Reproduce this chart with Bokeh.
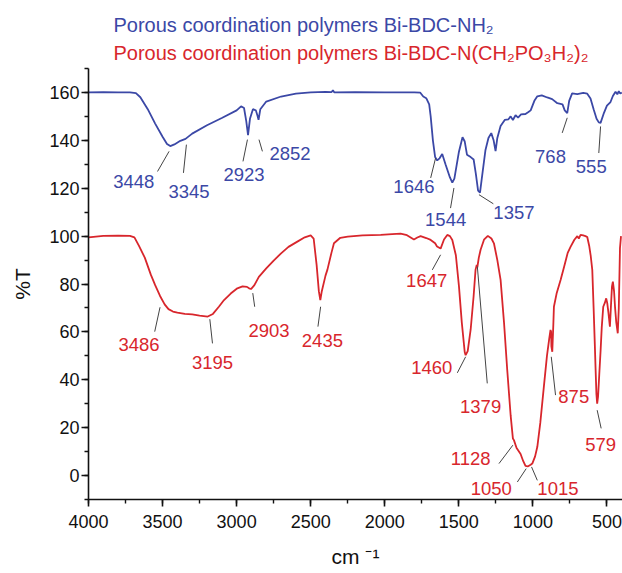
from bokeh.plotting import figure
from bokeh.models import Range1d, Title, SingleIntervalTicker
from bokeh.core.properties import value
from bokeh.embed import file_html
from bokeh.resources import INLINE

# ---------------- data ----------------
nh2_wn = [4000, 3900, 3800, 3720, 3680, 3650, 3600, 3550, 3500, 3470, 3448, 3420, 3380, 3345,
          3300, 3200, 3100, 3000, 2970, 2950, 2935, 2923, 2910, 2890, 2870, 2860, 2852, 2840,
          2800, 2700, 2600, 2500, 2400, 2360, 2350, 2340, 2200, 2000, 1800, 1760, 1740, 1720,
          1700, 1690, 1675, 1660, 1646, 1630, 1612, 1590, 1560, 1544, 1530, 1500, 1475, 1460,
          1445, 1420, 1400, 1385, 1370, 1357, 1345, 1320, 1300, 1281, 1265, 1252, 1240, 1218,
          1190, 1165, 1150, 1135, 1117, 1100, 1080, 1050, 1030, 1015, 990, 970, 940, 903, 870,
          835, 800, 785, 768, 755, 735, 700, 660, 633, 611, 590, 570, 555, 543, 520, 500, 476,
          460, 442, 430, 420, 410, 400]
nh2_t = [160, 160.1, 160, 160, 159.7, 158, 153, 147, 141.5, 138.5, 137.6, 138.3, 139.8, 140.6,
         142.8, 146.3, 149.3, 152.5, 154.2, 153.5, 148, 142.2, 149, 153, 152.5, 150.5, 148.6, 153,
         156.2, 158.3, 159.5, 160, 160.2, 160.1, 160.9, 160, 160.1, 160, 160, 159.9, 158.3, 157.6,
         155, 150, 140, 133, 131.6, 132.5, 134.3, 130, 124.5, 122.3, 124, 135, 141.3, 139.5,
         134, 133, 132, 126, 119, 118.2, 124, 136, 141, 143, 140, 135.5, 141, 146,
         148.5, 148.8, 150, 148.5, 150.5, 149.5, 150.8, 151, 151.8, 152.5, 156.5, 158.4, 158.8, 157.9, 157.2,
         155.5, 155, 152.5, 151.4, 156.5, 159.6, 159.3, 159.8, 159.5, 157.5, 153, 149, 147.5, 147.3, 151.5, 154.5, 156,
         158.5, 160.3, 159.2, 160.5, 159.5, 160]

po3_wn = [4000, 3900, 3800, 3720, 3690, 3660, 3620, 3580, 3550, 3517, 3486, 3460, 3430, 3400,
          3350, 3300, 3250, 3195, 3160, 3120, 3085, 3040, 2995, 2960, 2930, 2916, 2903, 2880,
          2850, 2800, 2750, 2700, 2650, 2590, 2540, 2500, 2480, 2460, 2445, 2435, 2425, 2400,
          2387, 2360, 2343, 2300, 2250, 2150, 2027, 1950, 1893, 1850, 1803, 1780, 1758, 1720,
          1690, 1660, 1647, 1623, 1600, 1578, 1560, 1544, 1520, 1499, 1480, 1460, 1454, 1440,
          1420, 1400, 1387, 1379, 1375, 1365, 1353, 1330, 1304, 1280, 1263, 1240, 1218, 1195,
          1173, 1150, 1135, 1128, 1110, 1083, 1065, 1050, 1035, 1015, 1004, 985, 970, 950, 926,
          905, 890, 881, 877, 875, 869, 862, 858, 840, 813, 790, 765, 745, 720, 700, 690, 678,
          660, 645, 633, 620, 610, 599, 590, 582, 577, 571, 566, 560, 552, 543, 535, 525, 515,
          505, 498, 490, 480, 472, 466, 460, 452, 445, 437, 427, 420, 412, 405]
po3_t = [99.5, 100.1, 100.2, 100.1, 99.5, 96, 91, 84, 79.5, 75, 71.5, 69.5, 68.5, 68,
         67.5, 67.3, 66.8, 66.4, 67.5, 70.5, 73.3, 76, 78.2, 79, 78.8, 78.2, 77.9, 79.5,
         83, 86.5, 89.8, 92.8, 95.5, 97.7, 99.5, 100.3, 99, 88, 77, 73.3, 77, 83.5,
         86, 93, 97, 99.3, 99.8, 100.3, 100.5, 100.8, 101, 100.4, 98.6, 99.4, 100, 99.2,
         98.4, 97, 95.7, 94.8, 98.6, 100.5, 100, 98.4, 92, 79, 64, 51.5, 50.3, 52,
         61, 75, 86, 88, 87, 91, 94.3, 98.5, 100.1, 99, 97, 90, 81.7, 64,
         44, 25, 15.5, 14.8, 11.5, 9, 6, 4, 3.8, 4.5, 5, 8, 12, 22, 37,
         50, 57, 60.8, 60, 54, 51.7, 63, 70.5, 76, 81.7, 87, 93, 95.6, 98.5, 100, 99, 100.5,
         100.3, 100, 99.6, 96, 92, 85.9, 70, 55, 45, 34, 30, 33, 42, 52, 62, 70.5, 72,
         74, 72, 68, 62.2, 72, 79, 81, 77, 70, 64, 59.4, 70, 95, 100]

# peak labels: text, label position, leader line start/end
nh2_labels = ["3448", "3345", "2923", "2852", "1646", "1544", "1357", "768", "555"]
nh2_lab_x = [3694, 3321, 2950, 2640, 1803, 1589, 1128, 881, 606]
nh2_lab_y = [122.7, 118.7, 125.6, 134.3, 120.8, 107.1, 109.9, 133.3, 129.1]
nh2_ln_x0 = [3534, 3359, 2957, 2826, 1690, 1556, 1267, 802, 555]
nh2_ln_y0 = [127.0, 126.4, 131.2, 135.4, 124.3, 111.7, 113.5, 143.1, 134.7]
nh2_ln_x1 = [3456, 3339, 2927, 2849, 1657, 1533, 1364, 768, 543]
nh2_ln_y1 = [135.4, 138.2, 140.3, 140.3, 132.6, 120.1, 117.3, 149.4, 145.8]

po3_labels = ["3486", "3195", "2903", "2435", "1647", "1460", "1379", "1128", "1050", "1015", "875", "579"]
po3_lab_x = [3659, 3163, 2781, 2421, 1717, 1683, 1353, 1420, 1281, 831, 724, 543]
po3_lab_y = [54.9, 47.1, 60.5, 56.3, 81.4, 45.0, 28.7, 7.1, -5.2, -5.2, 33.2, 13.1]
po3_ln_x0 = [3553, 3163, 2878, 2451, 1679, 1510, 1308, 1229, 1105, 970, 847, 539]
po3_ln_y0 = [60.1, 55.2, 70.5, 62.2, 85.9, 42.9, 38.5, 5.0, -2.7, -2.0, 33.6, 19.7]
po3_ln_x1 = [3517, 3181, 2891, 2433, 1623, 1454, 1375, 1135, 1045, 1009, 876, 566]
po3_ln_y1 = [70.3, 65.3, 76.2, 70.5, 92.2, 49.6, 87.3, 12.7, 2.9, 3.6, 49.6, 27.3]

title_nh2 = "Porous coordination polymers Bi-BDC-NH\u2082"
title_po3 = "Porous coordination polymers Bi-BDC-N(CH\u2082PO\u2083H\u2082)\u2082"
x_title = "cm \u207b\u00b9"
y_title = "%T"

BLUE = "#3b48a6"
RED = "#d8262c"
FONT = "Liberation Sans"

p = figure(width=622, height=573, output_backend="svg", toolbar_location=None,
           x_range=Range1d(4000, 395), y_range=Range1d(-10, 170),
           min_border_left=88, min_border_right=0, min_border_top=68, min_border_bottom=74)
p.background_fill_color = "white"
p.border_fill_color = "white"
p.outline_line_color = None
p.grid.visible = False

# header lines (first added sits nearest the frame)
p.add_layout(Title(text=title_po3, text_color=RED, text_font=FONT, text_font_size="20px",
                   text_font_style="normal", align="left", offset=25, standoff=9), "above")
p.add_layout(Title(text=title_nh2, text_color=BLUE, text_font=FONT, text_font_size="20px",
                   text_font_style="normal", align="left", offset=25, standoff=0), "above")

p.xaxis.ticker = SingleIntervalTicker(interval=500, num_minor_ticks=2)
p.yaxis.ticker = SingleIntervalTicker(interval=20, num_minor_ticks=2)
for ax in (p.xaxis[0], p.yaxis[0]):
    ax.axis_line_width = 1.6
    ax.axis_line_color = "#111111"
    ax.major_tick_line_width = 1.6
    ax.minor_tick_line_width = 1.4
    ax.major_tick_line_color = "#111111"
    ax.minor_tick_line_color = "#111111"
    ax.major_tick_in = 0
    ax.major_tick_out = 7
    ax.minor_tick_in = 0
    ax.minor_tick_out = 4
    ax.major_label_text_font = FONT
    ax.major_label_text_font_size = "18px"
    ax.major_label_text_color = "#111111"
    ax.axis_label_text_font = FONT
    ax.axis_label_text_font_style = "normal"
    ax.axis_label_text_color = "#111111"
p.xaxis.major_label_standoff = 8
p.yaxis.major_label_standoff = 2
p.yaxis.axis_label = y_title
p.yaxis.axis_label_text_font_size = "21px"
p.yaxis.axis_label_standoff = 12
p.xaxis.axis_label = x_title
p.xaxis.axis_label_text_font_size = "21px"
p.xaxis.axis_label_standoff = 14

p.line(nh2_wn, nh2_t, line_color=BLUE, line_width=1.8)
p.line(po3_wn, po3_t, line_color=RED, line_width=1.8)

p.segment(nh2_ln_x0, nh2_ln_y0, nh2_ln_x1, nh2_ln_y1, line_color="#444444", line_width=1)
p.segment(po3_ln_x0, po3_ln_y0, po3_ln_x1, po3_ln_y1, line_color="#444444", line_width=1)

p.text(nh2_lab_x, nh2_lab_y, text=nh2_labels, text_color=BLUE, text_font=value(FONT),
       text_font_size="18.5px", text_align="center", text_baseline="middle")
p.text(po3_lab_x, po3_lab_y, text=po3_labels, text_color=RED, text_font=value(FONT),
       text_font_size="18.5px", text_align="center", text_baseline="middle")

open("out.html", "w").write(file_html(p, INLINE))
